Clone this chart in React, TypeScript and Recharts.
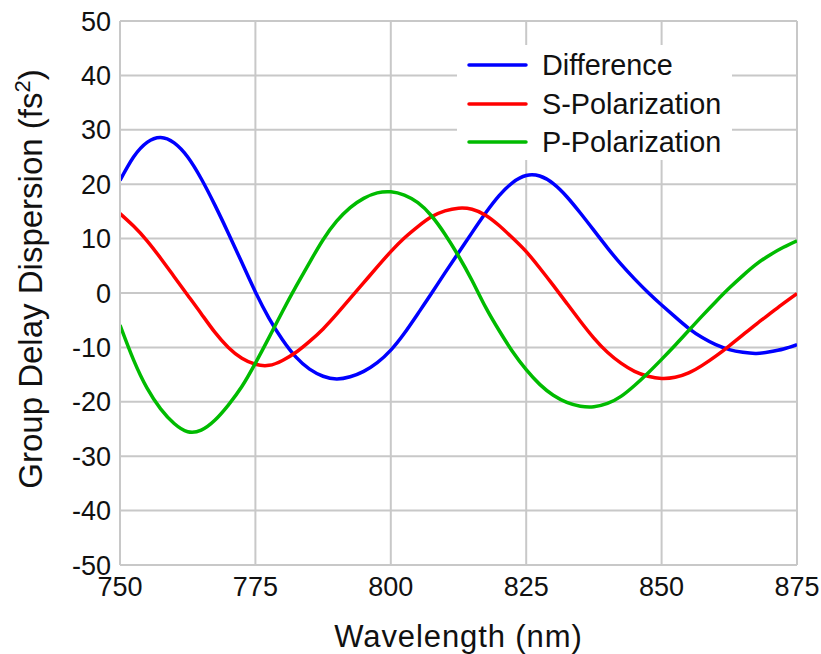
import React from 'react';
import { LineChart, Line, XAxis, YAxis, CartesianGrid, Legend } from 'recharts';

const xTicks = [750, 775, 800, 825, 850, 875];
const yTicks = [-50, -40, -30, -20, -10, 0, 10, 20, 30, 40, 50];

const seriesKeys = ['difference', 'sPol', 'pPol'];
const seriesNames = ['Difference', 'S-Polarization', 'P-Polarization'];
const seriesColors = ['#0000ff', '#ff0000', '#00bb00'];

// wavelength (nm), every 2.5 nm
const wavelength = [
  750, 752.5, 755, 757.5, 760, 762.5, 765, 767.5, 770, 772.5,
  775, 777.5, 780, 782.5, 785, 787.5, 790, 792.5, 795, 797.5,
  800, 802.5, 805, 807.5, 810, 812.5, 815, 817.5, 820, 822.5,
  825, 827.5, 830, 832.5, 835, 837.5, 840, 842.5, 845, 847.5,
  850, 852.5, 855, 857.5, 860, 862.5, 865, 867.5, 870, 872.5, 875,
];

const difference = [
  20.7, 25.0, 27.7, 28.6, 27.6, 25.0, 21.0, 16.2, 11.0, 5.6,
  0.2, -4.6, -8.6, -11.8, -14.0, -15.3, -15.8, -15.4, -14.4, -12.8,
  -10.5, -7.4, -3.8, -0.1, 3.7, 7.4, 11.1, 14.7, 17.9, 20.3,
  21.6, 21.5, 20.1, 17.7, 14.7, 11.5, 8.3, 5.3, 2.6, 0.1,
  -2.2, -4.4, -6.5, -8.2, -9.5, -10.4, -10.9, -11.1, -10.8, -10.3, -9.5,
];

const sPolarization = [
  14.6, 12.3, 9.6, 6.4, 3.0, -0.4, -3.8, -7.2, -10.0, -12.0,
  -13.1, -13.3, -12.4, -10.9, -8.9, -6.6, -3.9, -1.0, 1.9, 4.8,
  7.6, 10.1, 12.2, 14.0, 15.1, 15.6, 15.4, 14.3, 12.4, 10.1,
  7.6, 4.6, 1.4, -1.9, -5.2, -8.3, -10.9, -12.9, -14.4, -15.3,
  -15.7, -15.5, -14.7, -13.3, -11.6, -9.7, -7.7, -5.7, -3.8, -1.9, -0.1,
];

const pPolarization = [
  -5.9, -12.3, -17.5, -21.3, -24.0, -25.5, -25.2, -23.4, -20.6, -17.2,
  -12.9, -8.2, -3.4, 1.2, 5.6, 9.8, 13.2, 15.7, 17.4, 18.4,
  18.6, 18.0, 16.6, 14.2, 10.8, 6.8, 2.3, -2.6, -6.9, -10.8,
  -14.1, -16.8, -18.8, -20.1, -20.8, -20.9, -20.3, -19.0, -17.0, -14.7,
  -12.2, -9.6, -6.9, -4.2, -1.6, 0.9, 3.2, 5.3, 7.0, 8.4, 9.6,
];

const data = wavelength.map((w, i) => ({
  wavelength: w,
  difference: difference[i],
  sPol: sPolarization[i],
  pPol: pPolarization[i],
}));

const FONT = '"Liberation Sans", Arial, Helvetica, sans-serif';
const GRID = '#c8c8c8';
const TEXT = '#111111';

const renderLegend = (props: any) => {
  const payload = [...(props.payload || [])].sort(
    (a: any, b: any) => seriesNames.indexOf(a.value) - seriesNames.indexOf(b.value)
  );
  return (
    <div style={{ paddingTop: 1, fontFamily: FONT, fontSize: 28.8, color: TEXT }}>
      {payload.map((entry: any) => (
        <div key={entry.value} style={{ height: 38.5, display: 'flex', alignItems: 'center' }}>
          <svg width={72} height={8} style={{ display: 'block' }}>
            <line x1={12} x2={69} y1={4} y2={4} stroke={entry.color} strokeWidth={3.5} strokeLinecap="round" />
          </svg>
          <span style={{ marginLeft: 13, lineHeight: '38.5px', whiteSpace: 'nowrap' }}>{entry.value}</span>
        </div>
      ))}
    </div>
  );
};

const renderYLabel = (props: any) => {
  const vb = props.viewBox || { x: 0, y: 21, width: 120, height: 544 };
  const cx = vb.x + 42;
  const cy = vb.y + vb.height / 2 - 14;
  return (
    <text
      x={cx}
      y={cy}
      transform={`rotate(-90, ${cx}, ${cy})`}
      textAnchor="middle"
      fontFamily={FONT}
      fontSize={33}
      fill={TEXT}
    >
      Group Delay Dispersion (fs
      <tspan dy={-12} fontSize={22}>2</tspan>
      <tspan dy={12}>)</tspan>
    </text>
  );
};

export default function App() {
  return (
    <div style={{ position: 'absolute', left: 0, top: 0, width: 821, height: 654, background: '#ffffff' }}>
      <LineChart width={821} height={654} data={data} margin={{ top: 21, right: 24, bottom: 0, left: 0 }}>
        <CartesianGrid stroke={GRID} strokeWidth={2} />
        <XAxis
          type="number"
          dataKey="wavelength"
          domain={[750, 875]}
          ticks={xTicks}
          allowDataOverflow
          height={89}
          tickSize={0}
          tickMargin={12}
          axisLine={{ stroke: GRID, strokeWidth: 2 }}
          tickLine={false}
          tick={{ fontFamily: FONT, fontSize: 27, fill: TEXT }}
          label={{
            value: 'Wavelength (nm)',
            position: 'insideBottom',
            offset: 7,
            fontFamily: FONT,
            fontSize: 31,
            letterSpacing: 0.9,
            fill: TEXT,
          }}
        />
        <YAxis
          type="number"
          domain={[-50, 50]}
          ticks={yTicks}
          allowDataOverflow
          width={120}
          tickSize={0}
          tickMargin={9}
          axisLine={{ stroke: GRID, strokeWidth: 2 }}
          tickLine={false}
          tick={{ fontFamily: FONT, fontSize: 27, fill: TEXT }}
          label={{ content: renderYLabel }}
        />
        <Legend
          layout="vertical"
          align="center"
          verticalAlign="middle"
          content={renderLegend}
          wrapperStyle={{ left: 457, top: 45, width: 275, height: 115, background: '#ffffff' }}
        />
        {seriesKeys.map((key, i) => (
          <Line
            key={key}
            dataKey={key}
            name={seriesNames[i]}
            type="natural"
            stroke={seriesColors[i]}
            strokeWidth={3.5}
            dot={false}
            activeDot={false}
            isAnimationActive={false}
          />
        ))}
      </LineChart>
    </div>
  );
}
